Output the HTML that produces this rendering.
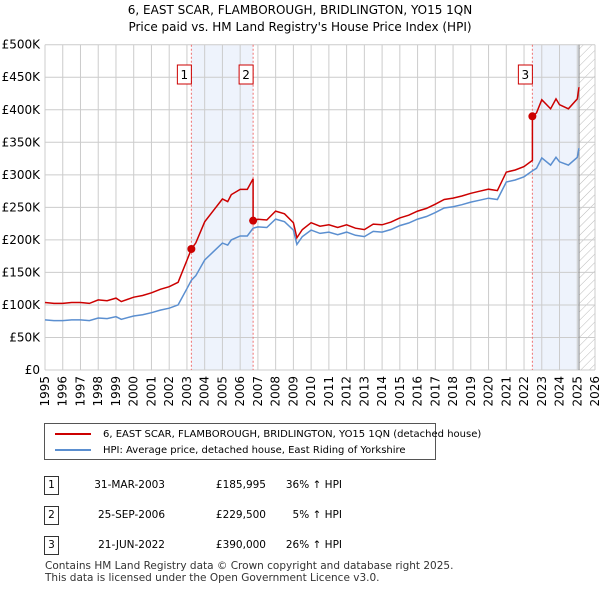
<!DOCTYPE html>
<html><head><meta charset="utf-8"><style>
body{margin:0;background:#fff;font-family:"DejaVu Sans","Liberation Sans",sans-serif;}
#wrap{position:relative;width:600px;height:590px;overflow:hidden}
.t{position:absolute;font-size:12px;color:#000}
</style></head><body><div id="wrap">
<div class="t" style="left:0;width:600px;text-align:center;top:2px;font-size:12px;line-height:17px">6, EAST SCAR, FLAMBOROUGH, BRIDLINGTON, YO15 1QN<br>Price paid vs. HM Land Registry's House Price Index (HPI)</div>
<svg id="c" width="600" height="420" style="position:absolute;left:0;top:0;font-family:'DejaVu Sans',sans-serif"></svg>
<div style="position:absolute;left:44px;top:423px;width:392px;height:37px;border:1px solid #555;box-sizing:border-box">
<div style="position:absolute;left:10px;top:5px;font-size:10px;white-space:nowrap"><span style="display:inline-block;width:36px;height:2px;background:#cc0000;vertical-align:middle;margin-right:12px"></span>6, EAST SCAR, FLAMBOROUGH, BRIDLINGTON, YO15 1QN (detached house)</div>
<div style="position:absolute;left:10px;top:21px;font-size:10px;white-space:nowrap"><span style="display:inline-block;width:36px;height:2px;background:#5b8fd0;vertical-align:middle;margin-right:12px"></span>HPI: Average price, detached house, East Riding of Yorkshire</div>
</div>
<div id="rows"></div>
<div class="t" style="left:45px;top:560px;font-size:10.5px;line-height:12px;color:#333">Contains HM Land Registry data © Crown copyright and database right 2025.<br>This data is licensed under the Open Government Licence v3.0.</div>
</div>
<script>
const years=[1995,1995.5,1996,1996.5,1997,1997.5,1998,1998.5,1999,1999.3,2000,2000.5,2001,2001.5,2002,2002.5,2003,2003.25,2003.5,2004,2004.5,2005,2005.3,2005.5,2006,2006.4,2006.73,2007,2007.5,2008,2008.5,2009,2009.2,2009.5,2010,2010.5,2011,2011.5,2012,2012.5,2013,2013.5,2014,2014.5,2015,2015.5,2016,2016.5,2017,2017.5,2018,2018.5,2019,2019.5,2020,2020.5,2021,2021.5,2022,2022.47,2022.7,2023,2023.5,2023.8,2024,2024.5,2025,2025.1];
const hpi=[77,76,76,77,77,76,80,79,82,78,83,85,88,92,95,100,125,138,145,169,182,195,192,200,206,206,218,220,219,232,228,215,193,205,215,210,212,208,212,207,205,213,212,216,222,226,232,236,242,249,251,254,258,261,264,262,289,292,297,306,310,326,315,327,320,315,327,341];
const saleYears=[2003.25,2006.73,2022.47];
const salePrices=[185.995,229.5,390];
const yTicks=[0,50,100,150,200,250,300,350,400,450,500];
const yLabels=["£0","£50K","£100K","£150K","£200K","£250K","£300K","£350K","£400K","£450K","£500K"];
const xTicks=[1995,1996,1997,1998,1999,2000,2001,2002,2003,2004,2005,2006,2007,2008,2009,2010,2011,2012,2013,2014,2015,2016,2017,2018,2019,2020,2021,2022,2023,2024,2025,2026];
const tableDates=["31-MAR-2003","25-SEP-2006","21-JUN-2022"];
const tablePrices=["£185,995","£229,500","£390,000"];
const tableHpi=["36% ↑ HPI","5% ↑ HPI","26% ↑ HPI"];
const X=y=>45+(y-1995)*(550/31), Y=v=>370-v*0.6506;
const svg=document.getElementById('c'),NS="http://www.w3.org/2000/svg";
function mk(t,a,p){const e=document.createElementNS(NS,t);for(const k in a)e.setAttribute(k,a[k]);(p||svg).appendChild(e);return e;}
const hpiAt=y=>{for(let i=1;i<years.length;i++)if(years[i]>=y){const f=(y-years[i-1])/(years[i]-years[i-1]);return hpi[i-1]+f*(hpi[i]-hpi[i-1]);}return hpi[hpi.length-1];};
const defs=mk('defs',{});const pat=mk('pattern',{id:'h',width:6,height:6,patternUnits:'userSpaceOnUse',patternTransform:'rotate(45)'},defs);mk('line',{x1:0,y1:0,x2:0,y2:6,stroke:'#bbb','stroke-width':1},pat);
let s=mk('rect',{x:X(saleYears[0]),y:Y(500),width:X(saleYears[1])-X(saleYears[0]),height:Y(0)-Y(500),fill:'#eef3fc'});
s=mk('rect',{x:X(saleYears[2]),y:Y(500),width:X(2025.1)-X(saleYears[2]),height:Y(0)-Y(500),fill:'#eef3fc'});
s=mk('rect',{x:X(2025.1),y:Y(500),width:X(2026)-X(2025.1),height:Y(0)-Y(500),fill:'url(#h)'});
yTicks.forEach((v,i)=>{const l=mk('line',{x1:X(1995),x2:X(2026),y1:Y(v),y2:Y(v),stroke:'#ccc'});
const t=mk('text',{x:40,y:Y(v)+4,'text-anchor':'end','font-size':12,fill:'#000'});t.textContent=yLabels[i];});
xTicks.forEach(v=>{const l=mk('line',{x1:X(v),x2:X(v),y1:Y(500),y2:Y(0),stroke:'#ccc'});
const t=mk('text',{x:0,y:0,'text-anchor':'end','font-size':12,transform:`translate(${X(v)+4},${Y(0)+6}) rotate(-90)`});t.textContent=v;});
s=mk('line',{x1:X(2025.1),x2:X(2025.1),y1:Y(500),y2:Y(0),stroke:'#888'});
saleYears.forEach((y,i)=>{const l=mk('line',{x1:X(y),x2:X(y),y1:Y(500),y2:Y(0),stroke:'#f07070','stroke-dasharray':'2,2'});
const r=mk('rect',{x:X(y)-14,y:65,width:14,height:19,fill:'#fff',stroke:'#cc0000'});
const t=mk('text',{x:X(y)-7,y:79,'text-anchor':'middle','font-size':12});t.textContent=i+1;});
let d=years.map((y,i)=>(i?'L':'M')+X(y).toFixed(1)+','+Y(hpi[i]).toFixed(1)).join('');
s=mk('path',{d,fill:'none',stroke:'#5b8fd0','stroke-width':1.5});
const ratios=saleYears.map((y,i)=>salePrices[i]/hpiAt(y));
const ratioAt=y=>{let r=ratios[0];saleYears.forEach((s,i)=>{if(y>=s)r=ratios[i];});return r;};
let pts=[];years.forEach((y,i)=>{saleYears.forEach((sy,k)=>{if(k>0&&y>=sy&&i>0&&years[i-1]<sy){pts.push([sy,hpiAt(sy)*ratios[k-1]]);pts.push([sy,salePrices[k]]);}});pts.push([y,hpi[i]*ratioAt(y)]);});
d=pts.map((p,i)=>(i?'L':'M')+X(p[0]).toFixed(1)+','+Y(p[1]).toFixed(1)).join('');
s=mk('path',{d,fill:'none',stroke:'#cc0000','stroke-width':1.5});
saleYears.forEach((y,i)=>{const c=mk('circle',{cx:X(y),cy:Y(salePrices[i]),r:4,fill:'#cc0000'});});
const rows=document.getElementById('rows');
tableDates.forEach((dt,i)=>{const top=476+i*30;const r=document.createElement('div');


r.style.cssText=`position:absolute;left:0;top:${top}px;width:600px;height:20px;font-size:10.5px`;
r.innerHTML=`<span style="position:absolute;left:44px;top:0;width:13px;height:17px;border:1px solid #333;text-align:center;line-height:17px">${i+1}</span><span style="position:absolute;left:50px;width:115px;text-align:right;top:3px">${dt}</span><span style="position:absolute;left:180px;width:86px;text-align:right;top:3px">${tablePrices[i]}</span><span style="position:absolute;left:250px;width:92px;text-align:right;top:3px">${tableHpi[i]}</span>`;
rows.appendChild(r);});
</script></body></html>
